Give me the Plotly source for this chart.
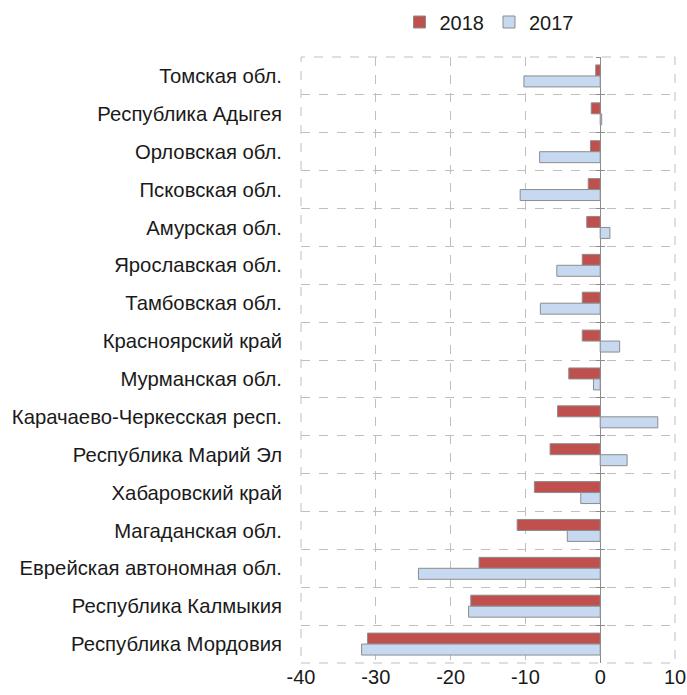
import plotly.graph_objects as go

categories = [
    "Томская обл.", "Республика Адыгея", "Орловская обл.", "Псковская обл.",
    "Амурская обл.", "Ярославская обл.", "Тамбовская обл.", "Красноярский край",
    "Мурманская обл.", "Карачаево-Черкесская респ.", "Республика Марий Эл",
    "Хабаровский край", "Магаданская обл.", "Еврейская автономная обл.",
    "Республика Калмыкия", "Республика Мордовия",
]
values_2018 = [-0.6, -1.2, -1.3, -1.6, -1.8, -2.4, -2.4, -2.4, -4.2, -5.7,
               -6.7, -8.8, -11.1, -16.2, -17.3, -31.1]
values_2017 = [-10.2, 0.2, -8.1, -10.7, 1.3, -5.8, -8.0, 2.6, -0.9, 7.7,
               3.6, -2.6, -4.4, -24.3, -17.6, -31.9]
x_ticks = [-40, -30, -20, -10, 0, 10]
x_range = [-40, 10]

font = "Liberation Sans, Arial, sans-serif"
outline = dict(color="#8C8C8C", width=1)
axis_grey = "#8C8C8C"

W, H = 687, 695
y_range = [len(categories) - 0.5, -0.5]  # reversed: first category on top

fig = go.Figure()
fig.add_trace(go.Bar(y=categories, x=values_2018, orientation="h", name="2018",
                     marker=dict(color="#C0504D", line=outline)))
fig.add_trace(go.Bar(y=categories, x=values_2017, orientation="h", name="2017",
                     marker=dict(color="#C6D9F1", line=outline)))
# helper traces so the tick-mark axes on the zero line get the categories
for ax in ("y2", "y3"):
    fig.add_trace(go.Scatter(y=categories, x=[0] * len(categories), mode="none",
                             yaxis=ax, showlegend=False, hoverinfo="skip"))

zero_pos = (0 - x_range[0]) / (x_range[1] - x_range[0])
tick_axis = dict(type="category", overlaying="y", anchor="free",
                 range=y_range, categoryorder="array", categoryarray=categories,
                 position=zero_pos, tickson="boundaries", showgrid=False,
                 showline=False, showticklabels=False, ticklen=4,
                 tickcolor=axis_grey, tickwidth=1, fixedrange=True,
                 automargin=False)

fig.update_layout(
    width=W, height=H,
    margin=dict(l=301, r=12, t=57, b=32, autoexpand=False),
    paper_bgcolor="white", plot_bgcolor="white",
    barmode="group", bargap=0.42, bargroupgap=0,
    font=dict(family=font, size=20.3, color="#1A1A1A"),
    showlegend=True,
    legend=dict(orientation="h", x=489 / W, xanchor="center", xref="container",
                y=1 - 22 / H, yanchor="middle", yref="container",
                font=dict(size=20), itemwidth=30,
                traceorder="normal", bgcolor="rgba(0,0,0,0)"),
    xaxis=dict(range=x_range, tickvals=x_ticks, ticktext=[str(v) for v in x_ticks],
               showgrid=True, gridcolor="#BFBFBF", griddash="dash", gridwidth=1,
               zeroline=True, zerolinecolor=axis_grey, zerolinewidth=1,
               showline=False, ticks="", tickfont=dict(size=20), fixedrange=True,
               automargin=False),
    yaxis=dict(type="category", range=y_range, categoryorder="array",
               categoryarray=categories, tickson="boundaries",
               showgrid=True, gridcolor="#BFBFBF", griddash="dash", gridwidth=1,
               showline=False, ticks="", ticklabelstandoff=18,
               tickfont=dict(size=20.3), fixedrange=True, automargin=False),
    yaxis2=dict(tick_axis, ticks="outside"),
    yaxis3=dict(tick_axis, ticks="inside"),
)
fig.add_shape(type="rect", xref="paper", yref="paper", x0=0, x1=1, y0=0, y1=1,
              line=dict(color="#BFBFBF", width=1, dash="dash"), layer="below")

fig.write_html(
    "out.html",
    config={"displayModeBar": False},
    post_script="document.body.style.margin='0';document.body.style.padding='0';",
)
